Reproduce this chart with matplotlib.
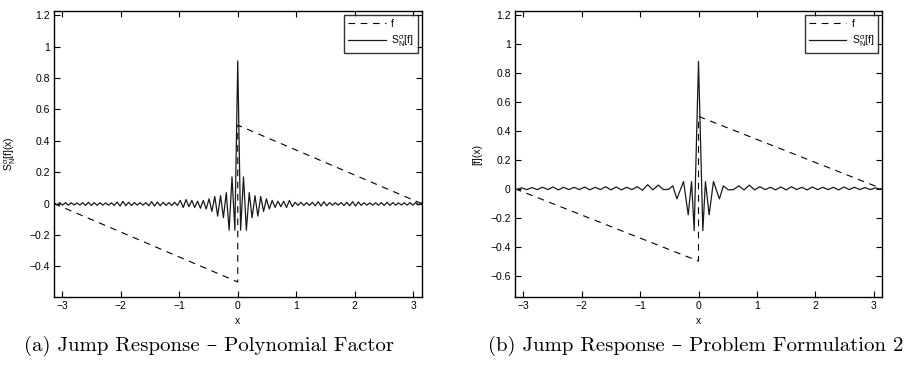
import numpy as np
import matplotlib
matplotlib.use("Agg")
import matplotlib.pyplot as plt

plt.rcParams['font.family'] = ['Liberation Sans', 'DejaVu Sans']
plt.rcParams['mathtext.fontset'] = 'custom'
plt.rcParams['mathtext.rm'] = 'Liberation Sans'
plt.rcParams['mathtext.it'] = 'Liberation Sans:italic'
plt.rcParams['mathtext.sf'] = 'Liberation Sans'

# ---------------- data ----------------
# dashed reference function f (sawtooth with a unit jump at 0)
f_x = [-np.pi, 0.0, 0.0, np.pi]
f_y = [0.0, -0.5, 0.5, 0.0]

# panel (a): values sampled on a uniform grid of 129 points over [-pi, pi]
a_left = [  # x from -pi up to just before 0 (64 values)
    0.004, -0.008, 0.006, -0.010, 0.006, -0.010, 0.005, -0.009, 0.004, -0.010,
    0.006, -0.012, 0.008, -0.012, 0.006, -0.011, 0.005, -0.010, 0.004, -0.010,
    0.005, -0.012, 0.010, -0.016, 0.014, -0.014, 0.008, -0.012, 0.006, -0.010,
    0.005, -0.010, 0.006, -0.014, 0.012, -0.016, 0.010, -0.014, 0.008, -0.012,
    0.006, -0.012, 0.008, -0.012, 0.020, -0.025, 0.025, -0.020, 0.020, -0.025,
    0.015, -0.030, 0.020, -0.035, 0.030, -0.050, 0.045, -0.080, 0.050, -0.090,
    0.070, -0.170, 0.170, -0.170,
]
a_peak = [0.91]
a_right = [  # x from just after 0 up to pi (64 values)
    -0.170, 0.170, -0.170, 0.070, -0.090, 0.050, -0.080, 0.045, -0.050, 0.030,
    -0.035, 0.020, -0.025, 0.015, -0.020, 0.015, -0.025, 0.020, -0.020, 0.008,
    -0.012, 0.008, -0.012, 0.006, -0.012, 0.008, -0.014, 0.012, -0.016, 0.012,
    -0.014, 0.006, -0.010, 0.005, -0.010, 0.006, -0.012, 0.008, -0.014, 0.012,
    -0.016, 0.010, -0.012, 0.005, -0.010, 0.004, -0.010, 0.005, -0.011, 0.006,
    -0.012, 0.008, -0.012, 0.006, -0.010, 0.004, -0.009, 0.005, -0.010, 0.006,
    -0.010, 0.006, -0.008, 0.004,
]
a_y = a_left + a_peak + a_right
a_x = np.linspace(-np.pi, np.pi, len(a_y))

# panel (b): extrema of the response (x, y)
b_x = [-3.14, -3.12, -3.03, -2.94, -2.85, -2.76, -2.67, -2.58, -2.49, -2.40,
       -2.31, -2.22, -2.13, -2.04, -1.95, -1.86, -1.77, -1.68, -1.59, -1.50,
       -1.41, -1.32, -1.23, -1.14, -1.05, -0.96, -0.87, -0.78, -0.69, -0.60,
       -0.51, -0.44, -0.37, -0.256, -0.176, -0.119, -0.074, 0.0, 0.074, 0.119,
       0.182, 0.256, 0.358, 0.426, 0.51, 0.60, 0.69, 0.78, 0.87, 0.96,
       1.05, 1.14, 1.23, 1.32, 1.41, 1.50, 1.59, 1.68, 1.77, 1.86,
       1.95, 2.04, 2.13, 2.22, 2.31, 2.40, 2.49, 2.58, 2.67, 2.76,
       2.85, 2.94, 3.03, 3.12, 3.14]
b_y = [0.0, -0.006, 0.006, -0.006, 0.008, -0.006, 0.010, -0.006, 0.012, -0.008,
       0.010, -0.006, 0.010, -0.006, 0.012, -0.008, 0.010, -0.006, 0.014, -0.008,
       0.012, -0.008, 0.010, -0.006, 0.014, -0.010, 0.028, -0.008, 0.025, -0.006,
       -0.004, 0.020, -0.070, 0.050, -0.180, 0.050, -0.290, 0.880, -0.290, 0.050,
       -0.180, 0.050, -0.070, 0.020, -0.008, -0.006, 0.020, -0.008, 0.025, -0.008,
       0.014, -0.006, 0.010, -0.008, 0.012, -0.008, 0.014, -0.006, 0.010, -0.008,
       0.012, -0.006, 0.010, -0.006, 0.010, -0.008, 0.012, -0.006, 0.010, -0.006,
       0.008, -0.006, 0.006, -0.004, 0.0]

x_ticks = [-3, -2, -1, 0, 1, 2, 3]
a_yticks = [-0.4, -0.2, 0, 0.2, 0.4, 0.6, 0.8, 1, 1.2]
b_yticks = [-0.6, -0.4, -0.2, 0, 0.2, 0.4, 0.6, 0.8, 1, 1.2]
a_ylabel = r'$\mathregular{S_N^{\sigma}[f](x)}$'
b_ylabel = '[f](x)'
captions = ['(a) Jump Response \u2013 Polynomial Factor',
            '(b) Jump Response \u2013 Problem Formulation 2']

# ---------------- figure ----------------
W, H = 907, 379
fig = plt.figure(figsize=(W / 100, H / 100), dpi=100)
fig.patch.set_facecolor('white')


def fmt(v):
    s = ('%g' % v)
    return s.replace('-', '\u2212')


def style(ax, yticks, ylim, ylabel, lab_x):
    ax.set_xlim(-np.pi, np.pi)
    ax.set_ylim(*ylim)
    ax.set_xticks(x_ticks)
    ax.set_xticklabels([fmt(v) for v in x_ticks])
    ax.set_yticks(yticks)
    ax.set_yticklabels([fmt(v) for v in yticks])
    ax.tick_params(direction='in', length=4, width=0.8, top=True, right=True,
                   labelsize=7.5, pad=3, colors='black')
    for s in ax.spines.values():
        s.set_linewidth(1.0)
        s.set_color('black')
    ax.set_xlabel('x', fontsize=7.5)
    ax.xaxis.set_label_coords(0.5, -0.065)
    ax.set_ylabel(ylabel, fontsize=7.5)
    ax.yaxis.set_label_coords(lab_x, 0.5)
    leg = ax.legend(loc='upper right', fontsize=7.5, frameon=True, fancybox=False,
                    handlelength=3.6, borderaxespad=0.35, borderpad=0.4,
                    labelspacing=0.45, handletextpad=0.5)
    leg.get_frame().set_edgecolor('black')
    leg.get_frame().set_linewidth(1.0)


ax1 = fig.add_axes([54 / W, 1 - 297 / H, (421.5 - 54) / W, (297 - 11) / H])
ax1.plot(f_x, f_y, color='black', lw=0.8, dashes=(6, 5), label='f')
ax1.plot(a_x, a_y, color='#1a1a1a', lw=0.9, label=r'$\mathregular{S_N^{\sigma}[f]}$')
style(ax1, a_yticks, (-0.596, 1.228), a_ylabel, -0.098)

ax2 = fig.add_axes([515 / W, 1 - 297 / H, (882 - 515) / W, (297 - 11) / H])
ax2.plot(f_x, f_y, color='black', lw=0.8, dashes=(6, 5), label='f')
ax2.plot(b_x, b_y, color='#1a1a1a', lw=0.9, label=r'$\mathregular{S_N^{\sigma}[f]}$')
style(ax2, b_yticks, (-0.748, 1.228), b_ylabel, -0.09)

cap_font = ['cmr10', 'DejaVu Serif']
fig.text(24 / W, 1 - 346 / H, captions[0], fontsize=15, family=cap_font,
         ha='left', va='center')
fig.text(488 / W, 1 - 346 / H, captions[1], fontsize=15, family=cap_font,
         ha='left', va='center')

fig.savefig('out.png', dpi=100, facecolor='white')
